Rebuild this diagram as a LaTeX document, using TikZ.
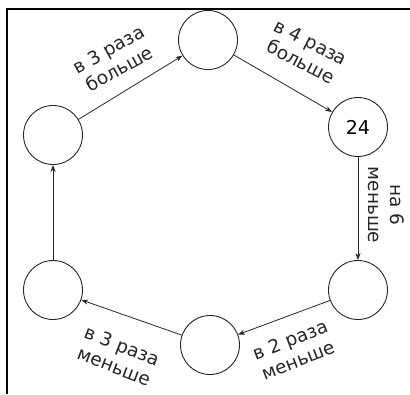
\documentclass[tikz,border=0pt]{standalone}
\usepackage{fontspec}
\setmainfont{DejaVu Sans}
\usetikzlibrary{arrows.meta}
\begin{document}
\begin{tikzpicture}[x=1pt,y=-1pt,
  num/.style={circle,draw=black!85,line width=0.9pt,minimum size=59pt,inner sep=0pt,font=\fontsize{19}{22}\selectfont},
  conn/.style={draw=black!85,line width=0.8pt,-{Stealth[length=7pt,width=5pt]}},
  lbl/.style={align=center,inner sep=0pt,text=black!85,font=\fontsize{18.5}{22}\selectfont}]
\useasboundingbox (0,0) rectangle (410,394);
\draw[line width=1.6pt] (7,394) -- (7,9) -- (410,9);
\node[num] (lu) at (53,135) {};
\node[num] (top) at (208,40) {};
\node[num] (ru) at (358,127) {24};
\node[num] (rl) at (358,290) {};
\node[num] (bot) at (210,345) {};
\node[num] (ll) at (53,290) {};
\draw[conn] (lu) -- (top);
\draw[conn] (top) -- (ru);
\draw[conn] (ru) -- (rl);
\draw[conn] (rl) -- (bot);
\draw[conn] (bot) -- (ll);
\draw[conn] (ll) -- (lu);
\node[lbl,rotate=29] (l1) at (114,59) {в 3 раза\\больше};
\node[lbl,rotate=-27] (l2) at (306,52) {в 4 раза\\больше};
\node[lbl,rotate=-90] (l3) at (386,205) {на 6\\меньше};
\node[lbl,rotate=21] (l4) at (294,350) {в 2 раза\\меньше};
\node[lbl,rotate=-21] (l5) at (118,356) {в 3 раза\\меньше};
\end{tikzpicture}
\end{document}
